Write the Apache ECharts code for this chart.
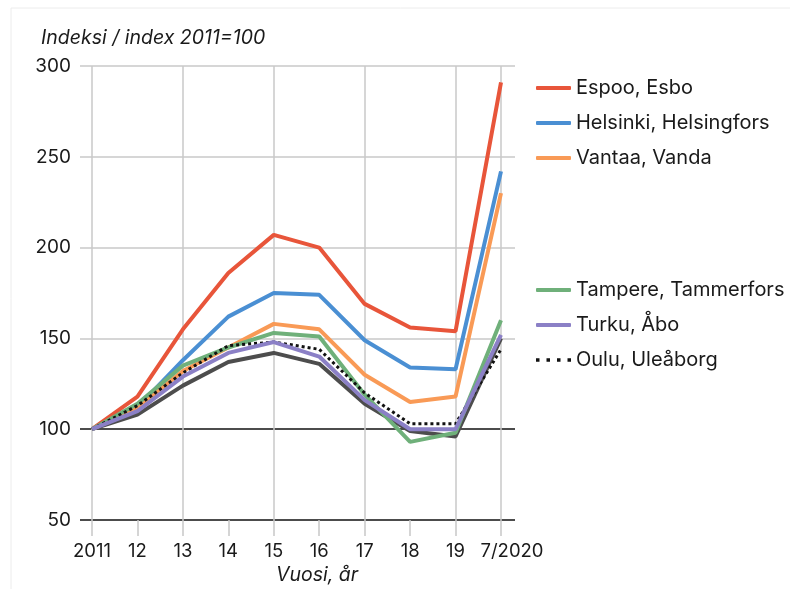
<!DOCTYPE html>
<html>
<head>
<meta charset="utf-8">
<script src="https://cdn.jsdelivr.net/npm/echarts@6/dist/echarts.min.js"></script>
<style>
  html, body { margin: 0; padding: 0; background: #fff; }
  #chart { width: 790px; height: 589px; }
</style>
</head>
<body>
<div id="chart"></div>
<script>
const years = ['2011', '12', '13', '14', '15', '16', '17', '18', '19', '7/2020'];

const espoo    = [100, 118, 155, 186, 207, 200, 169, 156, 154, 291];
const helsinki = [100, 112, 138, 162, 175, 174, 149, 134, 133, 242];
const vantaa   = [100, 112, 132, 145, 158, 155, 130, 115, 118, 230];
const tampere  = [100, 114, 135, 145, 153, 151, 119,  93,  98, 160];
const turku    = [100, 110, 129, 142, 148, 140, 116, 100, 100, 152];
const oulu     = [100, 113, 131, 146, 148, 144, 120, 103, 103, 144];
const other    = [100, 108, 124, 137, 142, 136, 114,  99,  96, 150]; // no legend entry

const FONT = 'Inter';
const chart = echarts.init(document.getElementById('chart'));

function line(name, data, color, extra) {
  return Object.assign({
    name: name,
    type: 'line',
    xAxisIndex: 1,
    yAxisIndex: 1,
    data: data,
    symbol: 'none',
    lineStyle: { color: color, width: 4 },
    itemStyle: { color: color }
  }, extra || {});
}

// dotted legend key for Oulu
const dotIcon = 'path://M0,0h3v3h-3z M9,0h3v3h-3z M18,0h3v3h-3z M27,0h3v3h-3z';

const legendBase = {
  orient: 'vertical', left: 531,
  icon: 'roundRect',
  itemWidth: 35, itemHeight: 4, itemGap: 15,
  textStyle: { color: '#1a1a1a', fontSize: 20, fontFamily: FONT }
};

const option = {
  animation: false,
  backgroundColor: '#fff',
  title: {
    text: 'Indeksi / index 2011=100',
    left: 36,
    top: 23,
    textStyle: { fontFamily: FONT, fontStyle: 'italic', fontWeight: 'normal', fontSize: 19.5, color: '#1a1a1a' }
  },
  graphic: [
    { type: 'line', shape: { x1: 11, y1: 8, x2: 790, y2: 8 }, style: { stroke: '#ececec', lineWidth: 1 } },
    { type: 'line', shape: { x1: 11, y1: 8, x2: 11, y2: 589 }, style: { stroke: '#ececec', lineWidth: 1 } },
    {
      type: 'text', left: 276, top: 565,
      style: { text: 'Vuosi, år', font: 'italic 19.5px Inter', fill: '#1a1a1a' }
    }
  ],
  legend: [
    Object.assign({ data: ['Espoo, Esbo', 'Helsinki, Helsingfors', 'Vantaa, Vanda'], top: 73 }, legendBase),
    Object.assign({
      data: ['Tampere, Tammerfors', 'Turku, Åbo', { name: 'Oulu, Uleåborg', icon: dotIcon }],
      top: 275
    }, legendBase)
  ],
  grid: [
    { left: 80, right: 275, top: 66, bottom: 69 },
    { left: 92, right: 289, top: 66, bottom: 69 }
  ],
  xAxis: [
    { type: 'category', gridIndex: 0, data: years, show: false },
    {
      type: 'category', gridIndex: 1, data: years, boundaryGap: false,
      axisLine: { show: false },
      axisTick: { show: true, interval: 0, length: 16, lineStyle: { color: '#c8c8c8', width: 1.5 } },
      axisLabel: {
        interval: 0, margin: 22, color: '#1a1a1a', fontSize: 18.5, fontFamily: FONT,
        formatter: function (v) { return v === '7/2020' ? '{last|' + v + '}' : v; },
        rich: { last: { fontSize: 18.5, fontFamily: FONT, color: '#1a1a1a', padding: [0, 0, 0, 22] } }
      },
      splitLine: {
        show: true,
        interval: function (i) { return i % 2 === 0 || i === years.length - 1; },
        lineStyle: { color: '#c8c8c8', width: 1.5 }
      }
    }
  ],
  yAxis: [
    {
      type: 'value', gridIndex: 0, min: 50, max: 300, interval: 50,
      axisLine: { show: false }, axisTick: { show: false },
      axisLabel: { margin: 9, color: '#1a1a1a', fontSize: 19, fontFamily: FONT },
      splitLine: {
        show: true,
        lineStyle: { color: ['#111', '#111', '#c8c8c8', '#c8c8c8', '#c8c8c8', '#c8c8c8'], width: 1.5 }
      }
    },
    {
      type: 'value', gridIndex: 1, min: 50, max: 300, interval: 50, show: false,
      splitLine: { show: false }
    }
  ],
  series: [
    line('Muu', other, '#4d4d4d'),
    line('Espoo, Esbo', espoo, '#e8553a'),
    line('Helsinki, Helsingfors', helsinki, '#4a8fd3'),
    line('Vantaa, Vanda', vantaa, '#f99a56'),
    line('Tampere, Tammerfors', tampere, '#6fb07a'),
    line('Oulu, Uleåborg', oulu, '#111', { lineStyle: { color: '#111', width: 3, type: [3, 3] } }),
    line('Turku, Åbo', turku, '#8b80c6')
  ]
};

chart.setOption(option);
</script>
</body>
</html>
